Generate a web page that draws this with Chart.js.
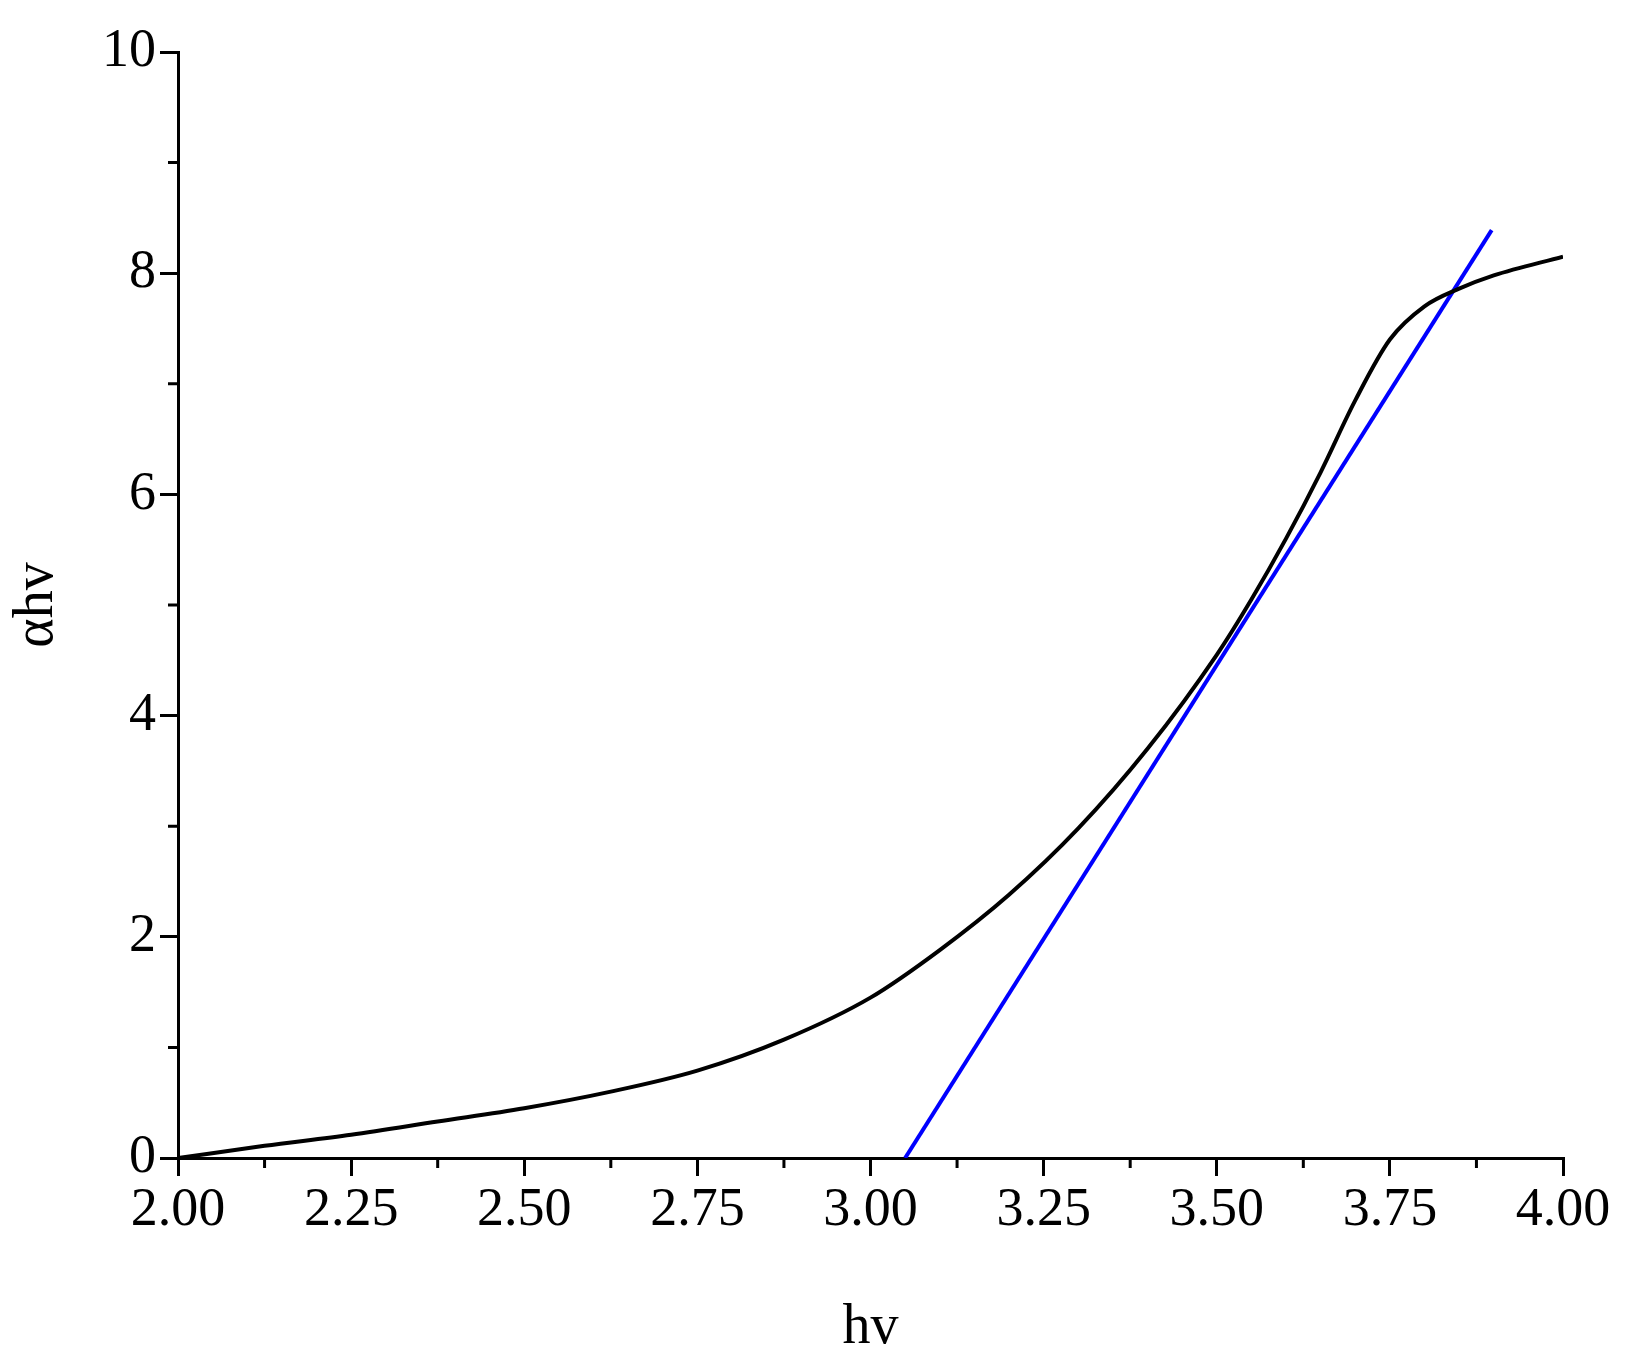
<!DOCTYPE html>
<html>
<head>
<meta charset="utf-8">
<script src="https://cdn.jsdelivr.net/npm/chart.js@4/dist/chart.umd.min.js"></script>
<style>
html, body { margin: 0; padding: 0; background: #fff; }
#wrap { width: 1646px; height: 1366px; }
</style>
</head>
<body>
<div id="wrap"><canvas id="chart"></canvas></div>
<script>
// measured curve (hv, alpha*hv)
const curveX = [2.0, 2.125, 2.25, 2.375, 2.5, 2.625, 2.75, 2.875, 3.0, 3.1, 3.2, 3.3, 3.4, 3.5, 3.55, 3.6, 3.65, 3.7, 3.75, 3.8, 3.85, 3.9, 4.0];
const curveY = [0.0, 0.11, 0.21, 0.33, 0.45, 0.6, 0.79, 1.07, 1.45, 1.88, 2.38, 2.98, 3.7, 4.55, 5.05, 5.6, 6.2, 6.85, 7.4, 7.7, 7.86, 7.98, 8.15];
// linear fit (Tauc extrapolation)
const fitX = [3.05, 3.897];
const fitY = [0.0, 8.39];
const xMajor = [2.0, 2.25, 2.5, 2.75, 3.0, 3.25, 3.5, 3.75, 4.0];
const yMajor = [0, 2, 4, 6, 8, 10];

const FONT = "'Liberation Serif', 'Times New Roman', serif";

function toPoints(xs, ys) {
    return xs.map(function (x, i) { return { x: x, y: ys[i] }; });
}

// minor ticks drawn through the scales
const minorTicks = {
    id: 'minorTicks',
    afterDraw: function (chart) {
        const ctx = chart.ctx;
        const xs = chart.scales.x, ys = chart.scales.y;
        const bottom = chart.chartArea.bottom, left = chart.chartArea.left;
        ctx.save();
        ctx.strokeStyle = '#000';
        ctx.lineWidth = 3;
        ctx.beginPath();
        for (let v = 2.125; v < 4; v += 0.25) {
            const px = xs.getPixelForValue(v);
            ctx.moveTo(px, bottom); ctx.lineTo(px, bottom + 10);
        }
        for (let v = 1; v < 10; v += 2) {
            const py = ys.getPixelForValue(v);
            ctx.moveTo(left, py); ctx.lineTo(left - 10, py);
        }
        ctx.stroke();
        ctx.restore();
    }
};

new Chart(document.getElementById('chart'), {
    type: 'scatter',
    data: {
        datasets: [
            {
                data: toPoints(curveX, curveY),
                showLine: true, borderColor: '#000', borderWidth: 4,
                pointRadius: 0, cubicInterpolationMode: 'monotone'
            },
            {
                data: toPoints(fitX, fitY),
                showLine: true, borderColor: '#0000ff', borderWidth: 4,
                pointRadius: 0
            }
        ]
    },
    options: {
        responsive: true,
        maintainAspectRatio: false,
        animation: false,
        layout: { padding: { top: 52, right: 83, left: 0, bottom: 0 } },
        plugins: { legend: { display: false }, tooltip: { enabled: false } },
        scales: {
            x: {
                type: 'linear', min: 2, max: 4,
                afterBuildTicks: function (s) { s.ticks = xMajor.map(function (v) { return { value: v }; }); },
                afterFit: function (s) { s.height = 208; },
                ticks: {
                    color: '#000', font: { family: FONT, size: 54 }, padding: 2,
                    maxRotation: 0,
                    callback: function (v) { return Number(v).toFixed(2); }
                },
                grid: { drawOnChartArea: false, tickLength: 18, color: '#000', lineWidth: 3 },
                border: { color: '#000', width: 3 },
                title: { display: true, text: 'hv', color: '#000', font: { family: FONT, size: 56 }, padding: { top: 40 } }
            },
            y: {
                type: 'linear', min: 0, max: 10,
                afterBuildTicks: function (s) { s.ticks = yMajor.map(function (v) { return { value: v }; }); },
                afterFit: function (s) { s.width = 178; },
                ticks: { color: '#000', font: { family: FONT, size: 54 }, padding: 4 },
                grid: { drawOnChartArea: false, tickLength: 18, color: '#000', lineWidth: 3 },
                border: { color: '#000', width: 3 },
                title: { display: true, text: 'αhv', color: '#000', font: { family: FONT, size: 56 }, padding: { bottom: 8 } }
            }
        }
    },
    plugins: [minorTicks]
});
</script>
</body>
</html>
